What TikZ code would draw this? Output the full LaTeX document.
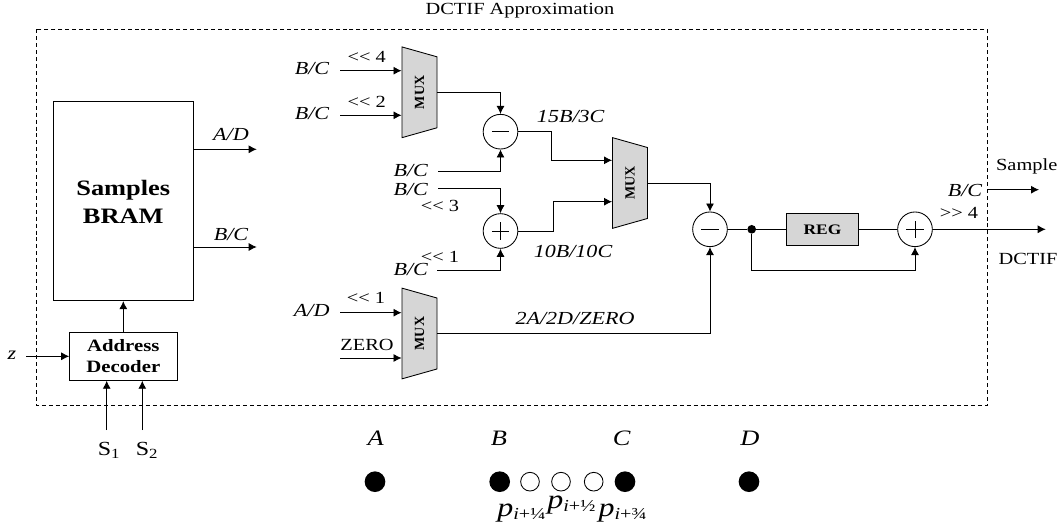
\documentclass[tikz,border=0pt]{standalone}
\usepackage{fontspec}
\setmainfont[FakeStretch=1.2]{Liberation Serif}
\newfontfamily\plainserif{Liberation Serif}
\usetikzlibrary{arrows.meta, shapes.geometric}

\newcommand{\pointp}{{\fontsize{20}{22}\selectfont\textit{p}}}

\tikzset{
	>={Latex[length=6pt,width=6pt]},
	every node/.style={inner sep=0pt, font=\fontsize{12.75}{14}\selectfont},
	muxbox/.style={draw, fill=black!16, trapezium, trapezium stretches=true, trapezium angle=63.4, shape border rotate=180, rotate=90, minimum width=68.25pt, minimum height=26.25pt, font=\plainserif\bfseries\fontsize{10.5}{12}\selectfont},
	sumplus/.style={draw, fill=white, circle, minimum size=26pt, path picture={\draw (path picture bounding box.center) ++(-6.5pt,0) -- ++(13pt,0); \draw (path picture bounding box.center) ++(0,-6.5pt) -- ++(0,13pt);}},
	summinus/.style={draw, fill=white, circle, minimum size=26pt, path picture={\draw (path picture bounding box.center) ++(-6.5pt,0) -- ++(13pt,0);}},
	blackdot/.style={circle, fill=black, minimum size=15.5pt},
	opendot/.style={circle, draw, fill=white, minimum size=14pt},
	bigletter/.style={font=\itshape\fontsize{16.5}{18}\selectfont},
	pointlabel/.style={font=\fontsize{18}{20}\selectfont},
	slanted/.style={font=\itshape\fontsize{13.8}{15}\selectfont}
}

\begin{document}
\begin{tikzpicture}[x=0.75pt, y=-0.75pt, line width=0.65pt]
	\useasboundingbox (0,0) rectangle (1061,524);

	% Draw the dashed outline
	\draw[dashed, dash pattern=on 3pt off 2.2pt] (36,29.5) rectangle (987.5,405);
	\node (title) at (520,10.5) {DCTIF Approximation};

	% Draw the sample memory and the decoder
	\node[draw, minimum width=105.5pt, minimum height=149.5pt] (bram) at (123.3,201) {};
	\node[align=center, font=\bfseries\fontsize{16.5}{21}\selectfont] (bramlabel) at (123.3,202) {Samples\\BRAM};
	\node[draw, align=center, minimum width=80.5pt, minimum height=36pt, font=\bfseries\fontsize{13}{16}\selectfont] (decoder) at (123.3,356.3) {Address\\Decoder};

	\coordinate (zin) at (26,356.3);
	\coordinate (s1in) at (106.7,430);
	\coordinate (s2in) at (142.3,430);
	\coordinate (adout) at (256.7,149.3);
	\coordinate (bcout) at (256.7,247);

	\node[slanted] (zlabel) at (12,355) {z};
	\node[font=\fontsize{15}{16}\selectfont] (s1label) at (109,450) {S\textsubscript{1}};
	\node[font=\fontsize{15}{16}\selectfont] (s2label) at (147,450) {S\textsubscript{2}};
	\node[slanted] (adlabel) at (231,135) {A/D};
	\node[slanted] (bclabel) at (231,234) {B/C};

	\draw[->] (zin) -- (decoder.west);
	\draw[->] (s1in) -- (s1in |- decoder.south);
	\draw[->] (s2in) -- (s2in |- decoder.south);
	\draw[->] (decoder.north) -- (bram.south);
	\draw[->] (adout -| bram.east) -- (adout);
	\draw[->] (bcout -| bram.east) -- (bcout);

	% Draw the multiplexers, the adders and the register
	\node[muxbox] (mux1) at (419.5,92.3) {MUX};
	\node[muxbox] (mux2) at (630,183) {MUX};
	\node[muxbox] (mux3) at (419.5,333.5) {MUX};
	\node[summinus] (minus1) at (500.5,131.7) {};
	\node[sumplus] (plus1) at (500.5,231) {};
	\node[summinus] (minus2) at (710,229.3) {};
	\node[sumplus] (plus2) at (915,229.3) {};
	\node[draw, fill=black!16, minimum width=53.5pt, minimum height=24pt, font=\bfseries\fontsize{10.9}{12}\selectfont] (reg) at (822.5,229.3) {REG};
	\node[circle, fill=black, minimum size=6.5pt] (tap) at (751.7,229.3) {};

	% Free ends of the inputs
	\coordinate (in1) at (340,70.7);
	\coordinate (in2) at (340,115.3);
	\coordinate (in3) at (340,312.7);
	\coordinate (in4) at (340,358);
	\coordinate (in5) at (438,171.3);
	\coordinate (in6) at (438,188.3);
	\coordinate (in7) at (437,270);
	\coordinate (up) at (551,160.3);
	\coordinate (down) at (553,201.7);
	\coordinate (sampleout) at (1039,189.7);
	\coordinate (sampleorigin) at (988,189.7);
	\coordinate (dctifout) at (1045.7,229.3);
	\coordinate (back) at (751.7,270);

	\draw[->] (in1) -- (in1 -| mux1.north);
	\draw[->] (in2) -- (in2 -| mux1.north);
	\draw[->] (in3) -- (in3 -| mux3.north);
	\draw[->] (in4) -- (in4 -| mux3.north);
	\draw[->] (mux1.south) -| (minus1.north);
	\draw[->] (in5) -| (minus1.south);
	\draw[->] (in6) -| (plus1.north);
	\draw[->] (in7) -| (plus1.south);
	\draw[->] (minus1.east) -| (up) -- (up -| mux2.north);
	\draw[->] (plus1.east) -| (down) -- (down -| mux2.north);
	\draw[->] (mux2.south) -| (minus2.north);
	\draw[->] (mux3.south) -| (minus2.south);
	\draw (minus2.east) -- (tap);
	\draw (tap) -- (reg.west);
	\draw (reg.east) -- (plus2.west);
	\draw[->] (tap) -- (back) -| (plus2.south);
	\draw[->] (plus2.east) -- (dctifout);
	\draw[->] (sampleorigin) -- (sampleout);

	% Labels of the datapath
	\begin{scope}[every node/.append style={slanted}]
		\node (bc1) at (312,68) {B/C};
		\node (bc2) at (312,113) {B/C};
		\node (bc3) at (410.7,170) {B/C};
		\node (bc4) at (410.7,189) {B/C};
		\node (bc5) at (410.7,269) {B/C};
		\node (ad1) at (311.7,310.7) {A/D};
		\node (term1) at (570.7,116.7) {15B/3C};
		\node (term2) at (573,251.7) {10B/10C};
		\node (term3) at (575,318) {2A/2D/ZERO};
		\node (bc6) at (965,190) {B/C};
	\end{scope}
	\node (sl4) at (366.7,56.7) {<{}< 4};
	\node (sl2) at (366.7,102) {<{}< 2};
	\node (sl3) at (440,205.7) {<{}< 3};
	\node (sl1) at (440,256.7) {<{}< 1};
	\node (sl1b) at (366,298) {<{}< 1};
	\node (zero) at (367,345) {ZERO};
	\node (sr4) at (959,213) {>{}> 4};
	\node (samplelabel) at (1026.7,166.7) {Sample};
	\node (dctiflabel) at (1028,259) {DCTIF};

	% Draw the sample points
	\node[bigletter] (la) at (375.7,438) {A};
	\node[bigletter] (lb) at (499,438) {B};
	\node[bigletter] (lc) at (621.7,438) {C};
	\node[bigletter] (ld) at (750,438) {D};
	\node[blackdot] (pa) at (375,481.7) {};
	\node[blackdot] (pb) at (499.7,481.7) {};
	\node[opendot] (q1) at (530,481.7) {};
	\node[opendot] (q2) at (561,481.7) {};
	\node[opendot] (q3) at (593.7,481.7) {};
	\node[blackdot] (pc) at (625,481.7) {};
	\node[blackdot] (pd) at (749,481.7) {};
	\node[pointlabel] (lq1) at (521.7,513) {\pointp\textsubscript{\textit{i}+¼}};
	\node[pointlabel] (lq2) at (571.7,505) {\pointp\textsubscript{\textit{i}+½}};
	\node[pointlabel] (lq3) at (623,513) {\pointp\textsubscript{\textit{i}+¾}};
\end{tikzpicture}
\end{document}
